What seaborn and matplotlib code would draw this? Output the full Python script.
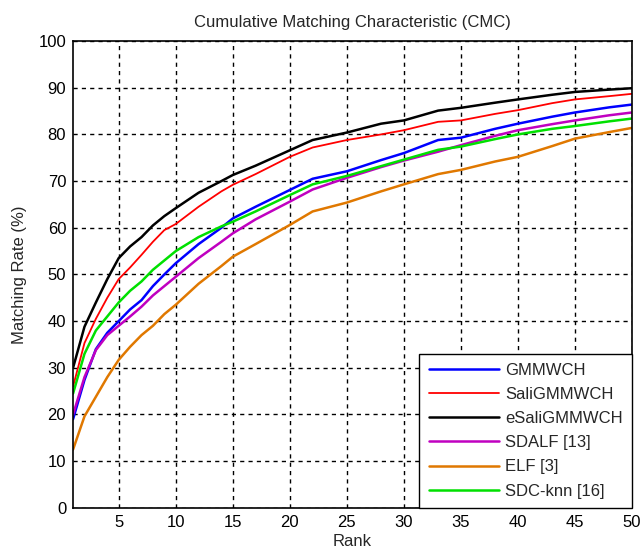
import matplotlib
matplotlib.use("Agg")
import matplotlib.pyplot as plt
import seaborn as sns
import pandas as pd

ranks = [1, 2, 3, 4, 5, 6, 7, 8, 9, 10, 12, 14, 15, 17, 20, 22, 25, 28, 30, 33, 35, 38, 40, 43, 45, 48, 50]

gmmwch = [19, 27.4, 34, 37.5, 40, 42.5, 44.5, 47.5, 50, 52.4, 56.5, 60, 62, 64.5, 68.1, 70.5, 72.1, 74.5, 76, 78.8, 79.3, 81.2, 82.3, 83.8, 84.7, 85.8, 86.4]
sali = [26, 35.3, 40.5, 45, 49, 51.5, 54.2, 57, 59.5, 60.8, 64.5, 67.8, 69.2, 71.5, 75.2, 77.2, 78.8, 80, 80.9, 82.7, 83, 84.4, 85.2, 86.7, 87.5, 88.2, 88.7]
esali = [30, 38.8, 44, 49, 53.5, 56, 58, 60.5, 62.5, 64.2, 67.5, 70, 71.3, 73.3, 76.6, 78.8, 80.4, 82.3, 83, 85.1, 85.7, 86.8, 87.5, 88.5, 89.1, 89.6, 89.9]
sdalf = [20, 28, 33.8, 37, 39, 41, 43.1, 45.5, 47.5, 49.5, 53.5, 57, 58.8, 61.8, 65.6, 68.2, 70.7, 73, 74.4, 76.3, 77.7, 79.7, 80.9, 82.2, 83, 84.1, 84.7]
elf = [12.5, 19.6, 23.8, 28, 31.7, 34.5, 37, 39, 41.5, 43.5, 48, 51.8, 53.8, 56.5, 60.6, 63.5, 65.4, 67.8, 69.3, 71.5, 72.4, 74.2, 75.2, 77.5, 79.1, 80.5, 81.4]
sdc = [24.5, 33, 38, 41, 44, 46.5, 48.5, 51, 53, 55, 58, 60.3, 61.3, 63.5, 67, 69.3, 71.1, 73.2, 74.6, 76.7, 77.4, 79, 80, 81.2, 81.8, 82.8, 83.4]

names = ["GMMWCH", "SaliGMMWCH", "eSaliGMMWCH", "SDALF [13]", "ELF [3]", "SDC-knn [16]"]
series = [gmmwch, sali, esali, sdalf, elf, sdc]
colors = ["#0000FF", "#FF0000", "#000000", "#C000C0", "#E07800", "#00E000"]
widths = [1.8, 1.3, 1.8, 1.8, 1.8, 1.8]

xticks = [5, 10, 15, 20, 25, 30, 35, 40, 45, 50]
yticks = [0, 10, 20, 30, 40, 50, 60, 70, 80, 90, 100]

rows = []
for n, s in zip(names, series):
    for r, v in zip(ranks, s):
        rows.append({"Rank": r, "Rate": v, "Method": n})
df = pd.DataFrame(rows)

sns.set_style("white")
plt.rcParams["font.family"] = ["Liberation Sans", "DejaVu Sans"]

fig = plt.figure(figsize=(6.41, 5.55), dpi=100)
ax = fig.add_axes([0.114, 0.085, 0.872, 0.841])

sns.lineplot(data=df, x="Rank", y="Rate", hue="Method", hue_order=names,
             palette=dict(zip(names, colors)), ax=ax, legend=False)
for line, w in zip(ax.get_lines(), widths):
    line.set_linewidth(w)

ax.set_xlim(1, 50)
ax.set_ylim(0, 100)
ax.set_xticks(xticks)
ax.set_yticks(yticks)
ax.tick_params(direction="in", length=4, labelsize=12, colors="black", width=0.8, pad=5)
ax.grid(True, color="black", linestyle=(0, (3, 3)), linewidth=1.0)
for sp in ax.spines.values():
    sp.set_color("black")
    sp.set_linewidth(1.2)
ax.set_xlabel("Rank", fontsize=12, labelpad=3)
ax.set_ylabel("Matching Rate (%)", fontsize=12, labelpad=8)
ax.set_title("Cumulative Matching Characteristic (CMC)", fontsize=12, pad=10)

handles = [plt.Line2D([], [], color=c, lw=w) for c, w in zip(colors, widths)]
leg = ax.legend(handles, names, loc="lower right", fontsize=12, frameon=True,
                fancybox=False, framealpha=1, edgecolor="black", borderaxespad=0,
                handlelength=4.2, handletextpad=0.4, labelspacing=0.55, borderpad=0.55)
leg.get_frame().set_linewidth(1.0)

fig.savefig("out.png", dpi=100)
